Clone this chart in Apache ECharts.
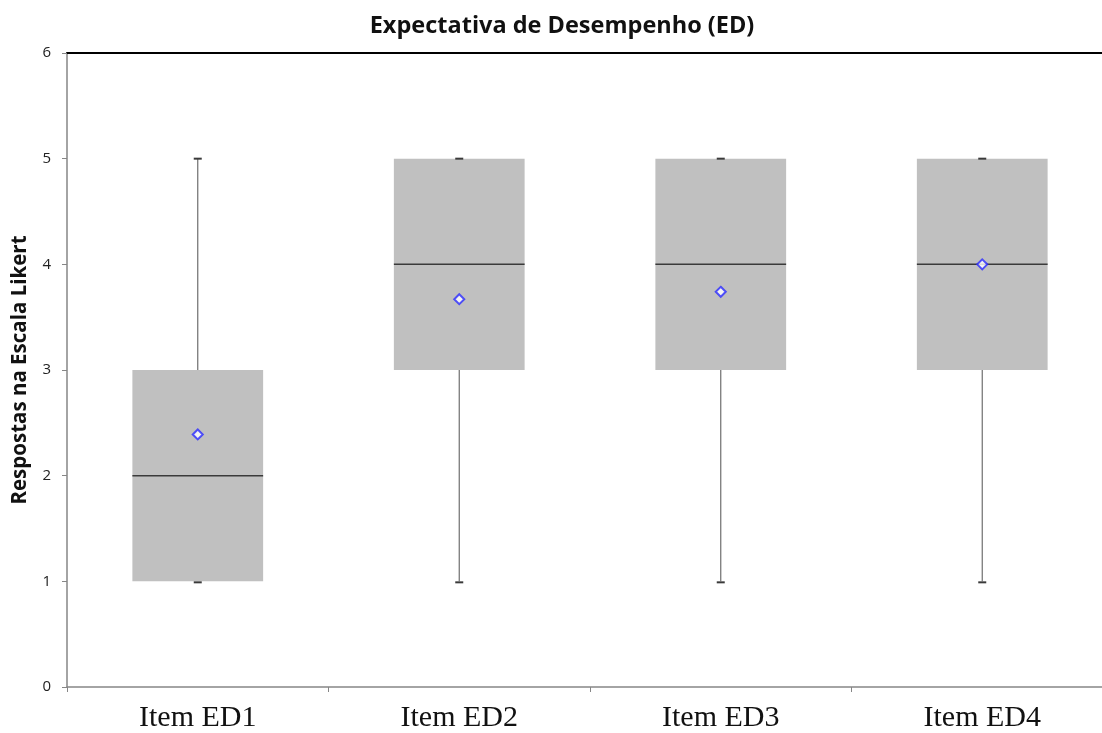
<!DOCTYPE html>
<html><head><meta charset="utf-8">
<script src="https://cdn.jsdelivr.net/npm/echarts@6/dist/echarts.min.js"></script>
<style>html,body{margin:0;padding:0;background:#fff}#c{width:1102px;height:733px}</style>
</head><body><div id="c"></div>
<script>
const categories = ['Item ED1', 'Item ED2', 'Item ED3', 'Item ED4'];
const minValues = [1, 1, 1, 1];
const q1Values = [1, 3, 3, 3];
const medianValues = [2, 4, 4, 4];
const q3Values = [3, 5, 5, 5];
const maxValues = [5, 5, 5, 5];
const meanValues = [2.39, 3.67, 3.74, 4.0];
const yTicks = [0, 1, 2, 3, 4, 5, 6];

const boxData = categories.map((c, i) => [i, minValues[i], q1Values[i], medianValues[i], q3Values[i], maxValues[i]]);
const meanData = categories.map((c, i) => [i, meanValues[i]]);

const chart = echarts.init(document.getElementById('c'), null, {renderer: 'canvas'});
chart.setOption({
  animation: false,
  title: {
    text: 'Expectativa de Desempenho (ED)', left: 557, textAlign: 'center', top: 9,
    textStyle: {fontFamily: 'Open Sans', fontWeight: 'bold', fontSize: 23.5, color: '#111'}
  },
  grid: {left: 67, right: -11, top: 53, bottom: 46, outerBoundsMode: 'none', containLabel: false},
  xAxis: [{
    type: 'category', data: categories, boundaryGap: true,
    axisLine: {lineStyle: {color: '#868686', width: 1.5}},
    axisTick: {show: true, length: 5, lineStyle: {color: '#868686'}},
    axisLabel: {fontFamily: 'Liberation Serif', fontSize: 30, color: '#111', margin: 16}
  }, {
    type: 'category', data: categories, position: 'top',
    axisLine: {lineStyle: {color: '#000', width: 2}},
    axisTick: {show: false}, axisLabel: {show: false}
  }],
  yAxis: {
    type: 'value', min: 0, max: 6, interval: 1,
    name: 'Respostas na Escala Likert', nameLocation: 'middle', nameGap: 36,
    nameTextStyle: {fontFamily: 'Open Sans', fontWeight: 'bold', fontSize: 20.5, color: '#111'},
    axisLine: {show: true, lineStyle: {color: '#868686', width: 1.5}},
    axisTick: {show: true, length: 5, lineStyle: {color: '#868686'}},
    axisLabel: {fontFamily: 'Open Sans', fontSize: 15, color: '#222', margin: 16},
    splitLine: {show: false}
  },
  series: [{
    type: 'custom',
    data: boxData,
    renderItem: function (params, api) {
      const x = api.value(0);
      const pMin = api.coord([x, api.value(1)]);
      const pQ1 = api.coord([x, api.value(2)]);
      const pMed = api.coord([x, api.value(3)]);
      const pQ3 = api.coord([x, api.value(4)]);
      const pMax = api.coord([x, api.value(5)]);
      const w = api.size([1, 0])[0] * 0.5;
      const cx = pMed[0];
      const cap = 8;
      return {
        type: 'group',
        children: [
          {type: 'line', shape: {x1: cx, y1: pMax[1], x2: cx, y2: pQ3[1]}, style: {stroke: '#6e6e6e', lineWidth: 1.2}},
          {type: 'line', shape: {x1: cx, y1: pQ1[1], x2: cx, y2: pMin[1]}, style: {stroke: '#6e6e6e', lineWidth: 1.2}},
          {type: 'rect', shape: {x: cx - w / 2, y: pQ3[1], width: w, height: pQ1[1] - pQ3[1]}, style: {fill: '#c0c0c0'}},
          {type: 'line', shape: {x1: cx - w / 2, y1: pMed[1], x2: cx + w / 2, y2: pMed[1]}, style: {stroke: '#3a3a3a', lineWidth: 1.5}},
          {type: 'line', shape: {x1: cx - cap / 2, y1: pMax[1], x2: cx + cap / 2, y2: pMax[1]}, style: {stroke: '#3a3a3a', lineWidth: 2}},
          {type: 'line', shape: {x1: cx - cap / 2, y1: pMin[1] + 1, x2: cx + cap / 2, y2: pMin[1] + 1}, style: {stroke: '#3a3a3a', lineWidth: 2}}
        ]
      };
    },
    z: 2
  }, {
    type: 'scatter', data: meanData, symbol: 'diamond', symbolSize: [10, 10],
    itemStyle: {color: '#fff', borderColor: '#2a2aff', borderWidth: 2},
    z: 5
  }]
});
</script></body></html>
